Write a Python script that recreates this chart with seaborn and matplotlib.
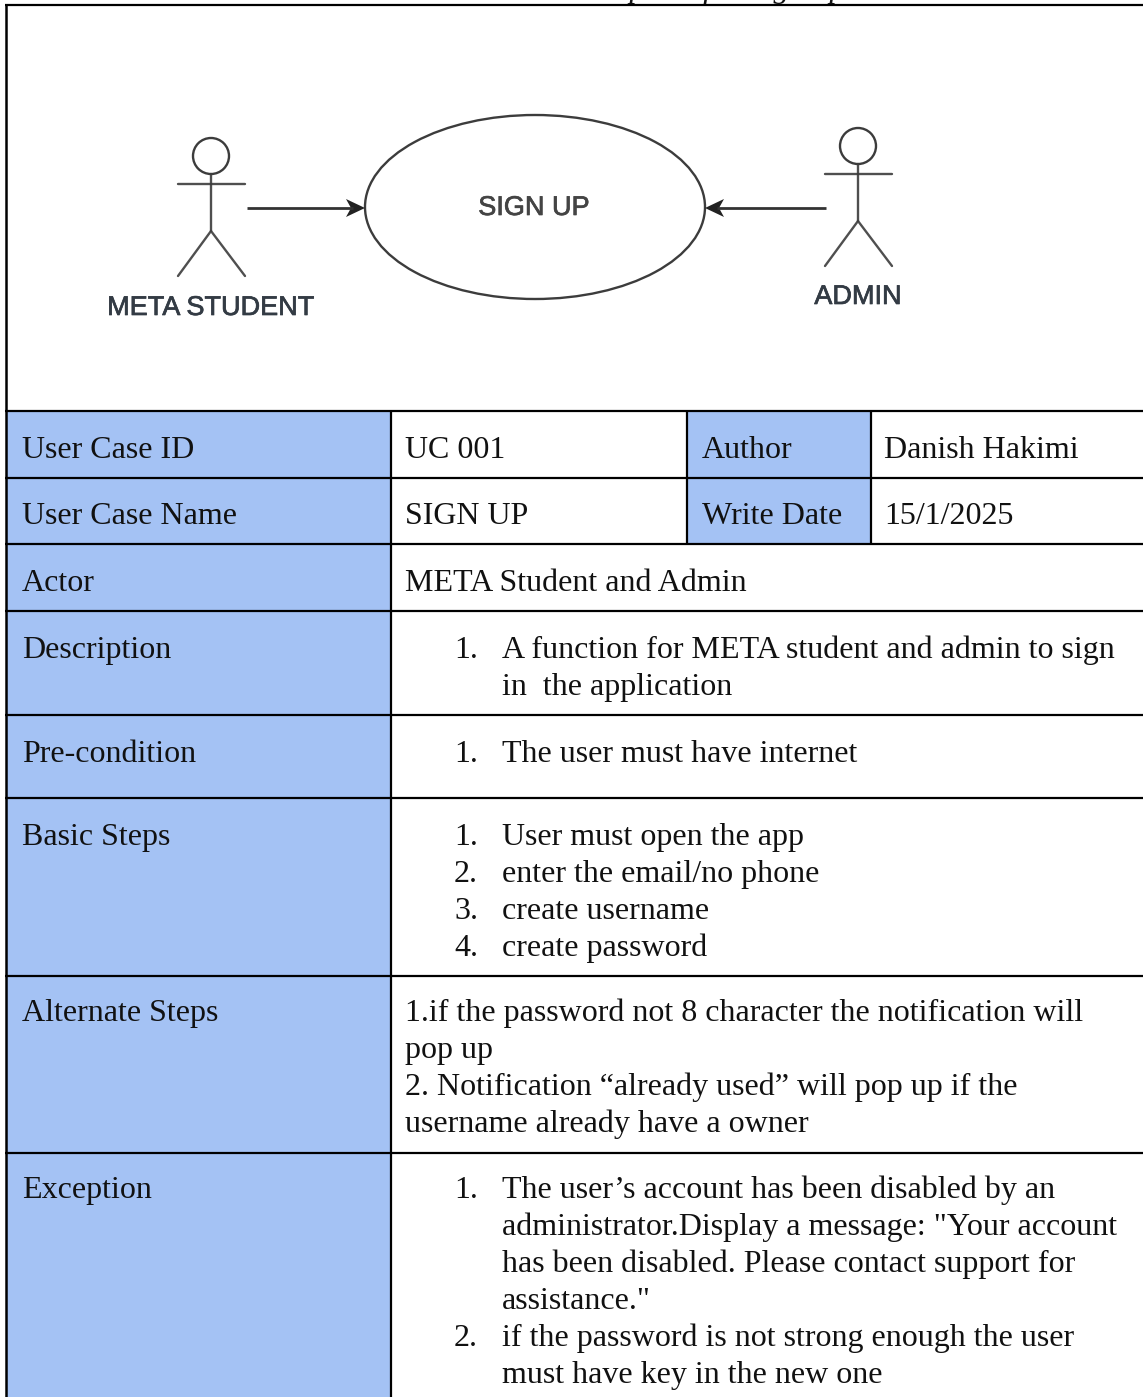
import matplotlib
matplotlib.use('Agg')
import matplotlib.pyplot as plt
import matplotlib.patheffects as pe
from matplotlib.patches import Circle, Ellipse, Rectangle, Polygon
import seaborn as sns

# 표 내용
row_labels = ['User Case ID', 'User Case Name', 'Actor', 'Description', 'Pre-condition',
              'Basic Steps', 'Alternate Steps', 'Exception']
row_edges = [411, 478, 544, 611, 715, 798, 976, 1153, 1420]
top_values = ['UC 001', 'SIGN UP']
side_labels = ['Author', 'Write Date']
side_values = ['Danish Hakimi', '15/1/2025']
actor_text = 'META Student and Admin'

description = ['A function for META student and admin to sign', 'in  the application']
precondition = ['The user must have internet']
basic_steps = ['User must open the app', 'enter the email/no phone', 'create username', 'create password']
alternate_steps = ['1.if the password not 8 character the notification will', 'pop up',
                   '2. Notification \u201calready used\u201d will pop up if the',
                   'username already have a owner']
exception_one = ['The user\u2019s account has been disabled by an',
                 'administrator.Display a message: "Your account',
                 'has been disabled. Please contact support for', 'assistance."']
exception_two = ['if the password is not strong enough the user', 'must have key in the new one']
caption = 'Use Case Description for Sign up'

BLUE = '#a4c2f4'
INK = '#111111'
GRAY = '#3c3c3c'
FS = 23.0
LINE = 36.9

sns.set_theme(style='white')
plt.rcParams['font.family'] = ['Liberation Serif', 'DejaVu Serif']

fig = plt.figure(figsize=(11.43, 13.97), dpi=100)
ax = fig.add_axes([0, 0, 1, 1])
ax.set_xlim(0, 1143)
ax.set_ylim(1397, 0)
ax.axis('off')


def put(x, y, s):
    ax.text(x, y, s, fontsize=FS, color=INK, va='baseline', ha='left')


def numbered(y, lines, start=1):
    # 번호 목록: 번호와 본문 위치가 따로 있음
    put(454, y, f'{start}.')
    for i, s in enumerate(lines):
        put(502, y + i * LINE, s)
    return y + len(lines) * LINE


# 파란 칸
ax.add_patch(Rectangle((6, 411), 385, 1000, color=BLUE, lw=0))
ax.add_patch(Rectangle((687, 411), 184, 133, color=BLUE, lw=0))

# 표 선
for y in [5] + row_edges[:-1]:
    ax.plot([5, 1143], [y, y], color='black', lw=1.6, solid_capstyle='butt')
ax.plot([6.2, 6.2], [4, 1397], color='black', lw=1.8, solid_capstyle='butt')
ax.plot([390.5, 390.5], [411, 1397], color='black', lw=1.6, solid_capstyle='butt')
for x in [687, 871]:
    ax.plot([x, x], [411, 544], color='black', lw=1.6, solid_capstyle='butt')

# 잘린 제목
ax.text(845, -3, caption, fontsize=FS, style='italic', color=INK, va='baseline', ha='right')


def blurry(x, y, s, color):
    t = ax.text(x, y, s, fontsize=19.5, family='Liberation Sans', color=color, ha='center', va='center')
    t.set_path_effects([pe.withStroke(linewidth=0.5, foreground=color)])


# 유스케이스 다이어그램
def actor(cx, top, name, name_y):
    kw = dict(color=GRAY, lw=1.7, alpha=0.9)
    ax.add_patch(Circle((cx, top + 18), 18, fill=False, ec=GRAY, lw=1.7))
    ax.plot([cx - 33, cx + 34], [top + 46, top + 46], **kw)
    ax.plot([cx, cx], [top + 36, top + 93], **kw)
    ax.plot([cx - 33, cx, cx + 34], [top + 138, top + 93, top + 138], **kw)
    blurry(cx, name_y, name, '#333b44')


actor(211, 138, 'META STUDENT', 308)
actor(858, 128, 'ADMIN', 297)
ax.add_patch(Ellipse((535, 207), 340, 184, fill=False, ec=GRAY, lw=1.7))
blurry(534, 208, 'SIGN UP', '#444444')

# 화살표 (끝이 오목한 모양)
for x0, x1, d in [(247, 365, 1), (826, 705, -1)]:
    ax.plot([x0, x1 - 12 * d], [208, 208], color='#333333', lw=2.0, solid_capstyle='butt')
    ax.add_patch(Polygon([(x1, 208), (x1 - 19 * d, 199), (x1 - 14 * d, 208), (x1 - 19 * d, 217)],
                         closed=True, color='#222222', lw=0))

# 왼쪽 열
label_base = [458, 524, 591, 658, 762, 845, 1021, 1198]
for y, s in zip(label_base, row_labels):
    put(22, y, s)

# 위쪽 두 줄
for i in range(2):
    put(405, label_base[i], top_values[i])
    put(702, label_base[i], side_labels[i])
    put(884, label_base[i], side_values[i])
put(405, label_base[2], actor_text)

numbered(label_base[3], description)
numbered(label_base[4], precondition)
for i, s in enumerate(basic_steps):
    numbered(label_base[5] + i * LINE, [s], start=i + 1)
for i, s in enumerate(alternate_steps):
    put(405, label_base[6] + i * LINE, s)
next_y = numbered(label_base[7], exception_one)
numbered(next_y, exception_two, start=2)

fig.savefig('out.png', dpi=100, facecolor='white')
